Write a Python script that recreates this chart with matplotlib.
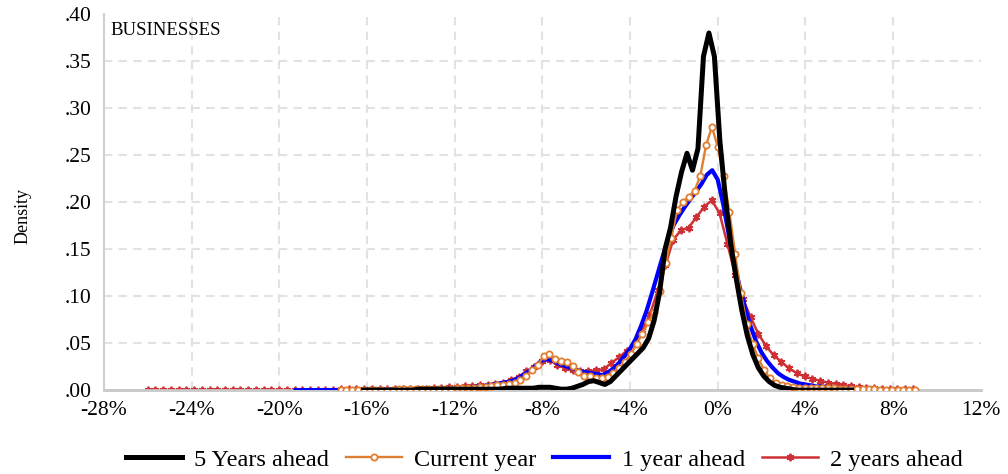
import numpy as np
import matplotlib
matplotlib.use('Agg')
import matplotlib.pyplot as plt

# kernel density grids (percent) and values
x_5y = np.linspace(-16.15, 6.1, 90)
y_5y = [0.000, 0.000, 0.000, 0.000, 0.000, 0.000, 0.000, 0.000, 0.000, 0.000,
        0.001, 0.001, 0.001, 0.001, 0.001, 0.001, 0.001, 0.001, 0.001, 0.001,
        0.001, 0.001, 0.001, 0.001, 0.001, 0.001, 0.002, 0.002, 0.002, 0.002,
        0.002, 0.002, 0.003, 0.003, 0.003, 0.002, 0.001, 0.001, 0.002, 0.004,
        0.006, 0.009, 0.010, 0.008, 0.006, 0.009, 0.015, 0.021, 0.027, 0.033,
        0.039, 0.045, 0.055, 0.074, 0.104, 0.150, 0.173, 0.206, 0.232, 0.252,
        0.234, 0.257, 0.355, 0.380, 0.355, 0.265, 0.205, 0.155, 0.118, 0.085,
        0.058, 0.038, 0.024, 0.015, 0.009, 0.005, 0.003, 0.002, 0.001, 0.000,
        0.000, 0.000, 0.000, 0.000, 0.000, 0.000, 0.000, 0.000, 0.000, 0.000]

x_cur = np.linspace(-17.2, 9.0, 100)
y_cur = [0.000, 0.000, 0.000, 0.000, 0.000, 0.000, 0.000, 0.000, 0.000, 0.000,
         0.001, 0.001, 0.001, 0.001, 0.001, 0.001, 0.001, 0.001, 0.001, 0.001,
         0.002, 0.002, 0.002, 0.002, 0.003, 0.003, 0.004, 0.005, 0.0055, 0.006,
         0.008, 0.011, 0.015, 0.021, 0.027, 0.036, 0.038, 0.033, 0.031, 0.030,
         0.026, 0.019, 0.015, 0.0145, 0.013, 0.013, 0.014, 0.018, 0.023, 0.030,
         0.038, 0.049, 0.060, 0.072, 0.083, 0.105, 0.135, 0.162, 0.192, 0.200,
         0.206, 0.212, 0.228, 0.261, 0.280, 0.259, 0.228, 0.190, 0.145, 0.103,
         0.070, 0.049, 0.034, 0.021, 0.013, 0.008, 0.005, 0.004, 0.003, 0.002,
         0.002, 0.002, 0.002, 0.002, 0.002, 0.002, 0.001, 0.001, 0.001, 0.001,
         0.001, 0.001, 0.001, 0.000, 0.000, 0.000, 0.000, 0.000, 0.000, 0.000]

x_1y = np.linspace(-19.25, 7.0, 106)
y_1y = [0.000, 0.000, 0.000, 0.000, 0.000, 0.000, 0.000, 0.000, 0.000, 0.000,
        0.000, 0.000, 0.000, 0.001, 0.001, 0.001, 0.001, 0.001, 0.001, 0.001,
        0.001, 0.001, 0.001, 0.001, 0.001, 0.002, 0.002, 0.002, 0.002, 0.002,
        0.002, 0.003, 0.003, 0.004, 0.004, 0.005, 0.006, 0.007, 0.008, 0.009,
        0.011, 0.014, 0.018, 0.022, 0.027, 0.032, 0.033, 0.031, 0.028, 0.026,
        0.024, 0.022, 0.020, 0.019, 0.018, 0.017, 0.016, 0.019, 0.023, 0.029,
        0.036, 0.044, 0.054, 0.068, 0.084, 0.103, 0.123, 0.143, 0.162, 0.176,
        0.186, 0.195, 0.203, 0.211, 0.219, 0.229, 0.234, 0.224, 0.198, 0.166,
        0.136, 0.110, 0.088, 0.068, 0.052, 0.040, 0.031, 0.024, 0.018, 0.014,
        0.011, 0.009, 0.007, 0.006, 0.005, 0.004, 0.004, 0.003, 0.003, 0.002,
        0.002, 0.002, 0.001, 0.001, 0.001, 0.001]

x_2y = np.linspace(-26.0, 8.9, 100)
y_2y = [0.000, 0.000, 0.000, 0.000, 0.000, 0.000, 0.000, 0.000, 0.000, 0.000,
        0.000, 0.000, 0.000, 0.000, 0.000, 0.000, 0.000, 0.000, 0.000, 0.000,
        0.000, 0.000, 0.000, 0.000, 0.000, 0.001, 0.001, 0.001, 0.001, 0.001,
        0.001, 0.001, 0.001, 0.001, 0.001, 0.001, 0.001, 0.002, 0.002, 0.003,
        0.0035, 0.004, 0.0045, 0.005, 0.0055, 0.006, 0.008, 0.011, 0.014, 0.020,
        0.025, 0.031, 0.032, 0.027, 0.023, 0.021, 0.020, 0.020, 0.021, 0.022,
        0.029, 0.035, 0.042, 0.050, 0.064, 0.081, 0.106, 0.133, 0.160, 0.170,
        0.173, 0.184, 0.195, 0.202, 0.188, 0.156, 0.123, 0.097, 0.078, 0.060,
        0.047, 0.037, 0.030, 0.023, 0.018, 0.0145, 0.012, 0.010, 0.008, 0.0065,
        0.005, 0.004, 0.003, 0.002, 0.002, 0.001, 0.001, 0.001, 0.001, 0.001]

x_ticks = list(range(-28, 13, 4))
x_labels = [f'{v}%' for v in x_ticks]
y_ticks = [0.00, 0.05, 0.10, 0.15, 0.20, 0.25, 0.30, 0.35, 0.40]
y_labels = [f'{v:.2f}'[1:] for v in y_ticks]

plt.rcParams['font.family'] = ['Liberation Serif', 'DejaVu Serif']

fig = plt.figure(figsize=(10.08, 4.74), dpi=100)
ax = fig.add_axes([0.103, 0.177, 0.870, 0.793])

# draw order: red at the bottom, black on top
l_2y, = ax.plot(x_2y, y_2y, color='#cf3035', lw=1.8, marker=(6, 2, 0),
                ms=5.5, mew=1.3, zorder=2, label='2 years ahead')
l_1y, = ax.plot(x_1y, y_1y, color='#0000ff', lw=3.0, zorder=3,
                label='1 year ahead')
l_cur, = ax.plot(x_cur, y_cur, color='#e07f32', lw=1.7, marker='o', ms=4.5,
                 mfc='white', mec='#e07f32', mew=1.3, zorder=4,
                 label='Current year')
l_5y, = ax.plot(x_5y, y_5y, color='black', lw=3.6, zorder=5,
                label='5 Years ahead')

ax.set_xlim(-28, 12)
ax.set_ylim(0, 0.4)
ax.set_xticks(x_ticks)
ax.set_xticklabels(x_labels)
ax.set_yticks(y_ticks)
ax.set_yticklabels(y_labels)
ax.tick_params(length=0, labelsize=15.5)
ax.tick_params(axis='x', pad=8)
ax.tick_params(axis='y', pad=9)

ax.grid(True, color='#e2e2e2', linestyle=(0, (4, 3)), linewidth=1.5, zorder=0)
ax.set_axisbelow(True)
for gl in [ax.get_xgridlines()[0], ax.get_xgridlines()[-1],
           ax.get_ygridlines()[0], ax.get_ygridlines()[-1]]:
    gl.set_visible(False)

ax.spines['top'].set_visible(False)
ax.spines['right'].set_visible(False)
ax.spines['left'].set_color('#d0d0d0')
ax.spines['left'].set_linewidth(1.5)
ax.spines['bottom'].set_color('#c8c8c8')
ax.spines['bottom'].set_linewidth(2)

ax.set_ylabel('Density', fontsize=13)
ax.yaxis.set_label_coords(-0.082, 0.463)
ax.text(0.007, 0.958, 'BUSINESSES', transform=ax.transAxes, fontsize=13.5,
        ha='left', va='center')

fig.legend(handles=[l_5y, l_cur, l_1y, l_2y], loc='center',
           bbox_to_anchor=(0.54, 0.03), ncol=4, frameon=False, fontsize=17.5,
           handlelength=2.3, columnspacing=0.7, handletextpad=0.5)

fig.savefig('out.png', dpi=100)
